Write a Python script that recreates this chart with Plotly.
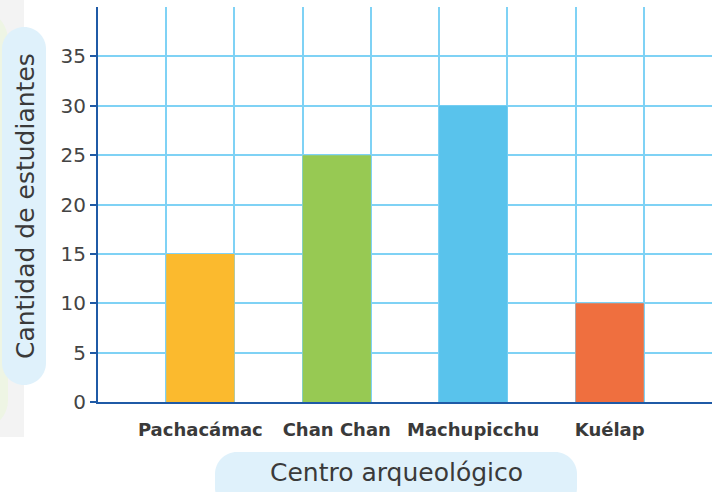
import plotly.graph_objects as go

# Datos
centros = ["Pachacámac", "Chan Chan", "Machupicchu", "Kuélap"]
estudiantes = [15, 25, 30, 10]
colores = ["#FBBA2E", "#97C953", "#59C3EC", "#EF6F3F"]
posiciones = [1.5, 3.5, 5.5, 7.5]
y_ticks = [0, 5, 10, 15, 20, 25, 30, 35]

W, H = 713, 492
M_L, M_R, M_T, M_B = 98, 1, 7, 90
PW = W - M_L - M_R
PH = H - M_T - M_B

AZUL_OSCURO = "#1F5AA6"
AZUL_GRID = "#7FD2F5"
TEXTO = "#3A3A3A"
FUENTE = "'DejaVu Sans', sans-serif"


def px_a_papel(x, y):
    return (x - M_L) / PW, (H - M_B - y) / PH


def pastilla(x0, y0, x1, y1, r):
    """Rectángulo redondeado como path en coordenadas de papel."""
    k = 0.5523 * r
    pts = [
        ("M", [(x0 + r, y0)]),
        ("L", [(x1 - r, y0)]),
        ("C", [(x1 - r + k, y0), (x1, y0 + r - k), (x1, y0 + r)]),
        ("L", [(x1, y1 - r)]),
        ("C", [(x1, y1 - r + k), (x1 - r + k, y1), (x1 - r, y1)]),
        ("L", [(x0 + r, y1)]),
        ("C", [(x0 + r - k, y1), (x0, y1 - r + k), (x0, y1 - r)]),
        ("L", [(x0, y0 + r)]),
        ("C", [(x0, y0 + r - k), (x0 + r - k, y0), (x0 + r, y0)]),
    ]
    partes = []
    for cmd, coords in pts:
        c = " ".join("%.5f,%.5f" % px_a_papel(a, b) for a, b in coords)
        partes.append(cmd + " " + c)
    return " ".join(partes) + " Z"


fig = go.Figure(go.Bar(
    x=posiciones,
    y=estudiantes,
    width=1,
    marker=dict(color=colores, line=dict(width=0)),
    hovertemplate="%{text}: %{y}<extra></extra>",
    text=centros,
    textposition="none",
))

fig.update_layout(
    width=W,
    height=H,
    margin=dict(l=M_L, r=M_R, t=M_T, b=M_B),
    paper_bgcolor="white",
    plot_bgcolor="white",
    showlegend=False,
    font=dict(family=FUENTE, color=TEXTO),
    xaxis=dict(
        range=[0, 9],
        tickvals=posiciones,
        ticktext=centros,
        tickfont=dict(size=18, color=TEXTO, weight="bold"),
        ticks="",
        ticklabelstandoff=10,
        showgrid=False,
        minor=dict(tick0=0, dtick=1, showgrid=True, gridcolor=AZUL_GRID, gridwidth=2),
        showline=True,
        linecolor=AZUL_OSCURO,
        linewidth=2,
        zeroline=False,
        fixedrange=True,
    ),
    yaxis=dict(
        range=[0, 40],
        tickvals=y_ticks,
        tickfont=dict(size=20, color="#444444"),
        ticks="outside",
        ticklen=6,
        tickwidth=2,
        tickcolor=AZUL_OSCURO,
        showgrid=False,
        minor=dict(tick0=0, dtick=5, showgrid=True, gridcolor=AZUL_GRID, gridwidth=2),
        showline=True,
        linecolor=AZUL_OSCURO,
        linewidth=2,
        zeroline=False,
        fixedrange=True,
    ),
)

# Decoración a la izquierda
fig.add_shape(type="rect", xref="paper", yref="paper",
              x0=px_a_papel(0, 0)[0], x1=px_a_papel(24, 0)[0],
              y0=px_a_papel(0, 437)[1], y1=px_a_papel(0, 0)[1],
              fillcolor="#F3F3F3", line=dict(width=0), layer="below")
fig.add_shape(type="path", xref="paper", yref="paper",
              path=pastilla(-30, 10, 8, 430, 30),
              fillcolor="#EEF5E4", line=dict(width=0), layer="below")

# Pastillas de los títulos
fig.add_shape(type="path", xref="paper", yref="paper",
              path=pastilla(2, 27, 46, 385, 22),
              fillcolor="#DFF1FB", line=dict(width=0), layer="below")
fig.add_shape(type="path", xref="paper", yref="paper",
              path=pastilla(215, 452, 577, 510, 22),
              fillcolor="#DFF1FB", line=dict(width=0), layer="below")

ax, ay = px_a_papel(25, 206)
fig.add_annotation(text="Cantidad de estudiantes", xref="paper", yref="paper",
                   x=ax, y=ay, xanchor="center", yanchor="middle",
                   textangle=-90, showarrow=False,
                   font=dict(size=25, color=TEXTO, family=FUENTE))
bx, by = px_a_papel(396, 472)
fig.add_annotation(text="Centro arqueológico", xref="paper", yref="paper",
                   x=bx, y=by, xanchor="center", yanchor="middle",
                   showarrow=False,
                   font=dict(size=25, color=TEXTO, family=FUENTE))

fig.write_html("out.html", config={"displayModeBar": False},
               post_script="document.body.style.margin='0';")
